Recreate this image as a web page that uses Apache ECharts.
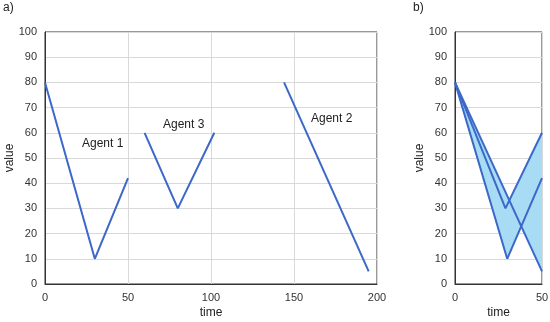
<!DOCTYPE html>
<html>
<head>
<meta charset="utf-8">
<script src="https://cdn.jsdelivr.net/npm/echarts@6/dist/echarts.min.js"></script>
<style>
  html, body { margin: 0; padding: 0; background: #fff; }
  #chart { width: 550px; height: 322px; }
</style>
</head>
<body>
<div id="chart"></div>
<script>
// panel a) - agents on the global time line
var agent1 = [[0, 80], [30, 10], [50, 42]]
var agent3 = [[60, 60], [80, 30], [102, 60]]
var agent2 = [[144, 80], [195, 5]]

// panel b) - agents aligned to a common start
var alignedA1 = [[0, 80], [30, 10], [50, 42]]
var alignedA3 = [[0, 80], [29, 30], [50, 60]]
var alignedA2 = [[0, 80], [50, 5]]

var yTicks = [0, 10, 20, 30, 40, 50, 60, 70, 80, 90, 100]

var lineColor = '#3b68c9'
var fillColor = '#a8dcf5'
var font = 'Liberation Sans, Arial, sans-serif'

var chart = echarts.init(document.getElementById('chart'))

function xAx(idx, max, interval) {
  return {
    gridIndex: idx, type: 'value', min: 0, max: max, interval: interval,
    name: 'time', nameLocation: 'middle', nameGap: 23, nameMoveOverlap: false,
    nameTextStyle: { color: '#222', fontSize: 12, fontFamily: font },
    axisLine: { show: true, lineStyle: { color: '#333', width: 1 } },
    axisTick: { show: false },
    axisLabel: { color: '#333', fontSize: 11, fontFamily: font, margin: 8 },
    splitLine: { show: true, lineStyle: { color: '#d9d9d9' } }
  }
}

function yAx(idx) {
  return {
    gridIndex: idx, type: 'value', min: yTicks[0], max: yTicks[yTicks.length - 1], interval: 10,
    name: 'value', nameLocation: 'middle', nameGap: 29, nameMoveOverlap: false,
    nameTextStyle: { color: '#222', fontSize: 12, fontFamily: font },
    axisLine: { show: true, lineStyle: { color: '#333', width: 1 } },
    axisTick: { show: false },
    axisLabel: { color: '#333', fontSize: 11, fontFamily: font, margin: 8 },
    splitLine: { show: true, lineStyle: { color: '#d9d9d9' } }
  }
}

function line(data, x, y) {
  return {
    type: 'line', xAxisIndex: x, yAxisIndex: y, data: data,
    symbol: 'none', z: 5,
    lineStyle: { color: lineColor, width: 2 }
  }
}

// fill between each pair of lines: union of the pairs gives the min/max band
function band(a, b) {
  return {
    type: 'custom', xAxisIndex: 1, yAxisIndex: 1, z: 3,
    data: [0],
    renderItem: function (params, api) {
      var pts = a.map(function (p) { return api.coord(p) })
      var back = b.slice().reverse().map(function (p) { return api.coord(p) })
      return {
        type: 'polygon',
        shape: { points: pts.concat(back) },
        style: { fill: fillColor, stroke: null }
      }
    }
  }
}

var option = {
  animation: false,
  backgroundColor: '#fff',
  grid: [
    { left: 45, right: 173, top: 32, bottom: 38, show: true, borderColor: '#333', borderWidth: 1, outerBoundsMode: 'none', containLabel: false },
    { left: 455, right: 8, top: 32, bottom: 38, show: true, borderColor: '#333', borderWidth: 1, outerBoundsMode: 'none', containLabel: false }
  ],
  xAxis: [xAx(0, 200, 50), xAx(1, 50, 50)],
  yAxis: [yAx(0), yAx(1)],
  series: [
    line(agent1, 0, 0),
    line(agent3, 0, 0),
    line(agent2, 0, 0),
    band(alignedA1, alignedA3),
    band(alignedA1, alignedA2),
    band(alignedA3, alignedA2),
    line(alignedA1, 1, 1),
    line(alignedA3, 1, 1),
    line(alignedA2, 1, 1)
  ],
  graphic: [
    { type: 'text', left: 3, top: 2, style: { text: 'a)', fill: '#222', font: '12px ' + font } },
    { type: 'text', left: 413, top: 2, style: { text: 'b)', fill: '#222', font: '12px ' + font } },
    { type: 'text', left: 82, top: 138, style: { text: 'Agent 1', fill: '#222', font: '12px ' + font } },
    { type: 'text', left: 163, top: 119, style: { text: 'Agent 3', fill: '#222', font: '12px ' + font } },
    { type: 'text', left: 311, top: 113, style: { text: 'Agent 2', fill: '#222', font: '12px ' + font } }
  ]
}

chart.setOption(option)
</script>
</body>
</html>
